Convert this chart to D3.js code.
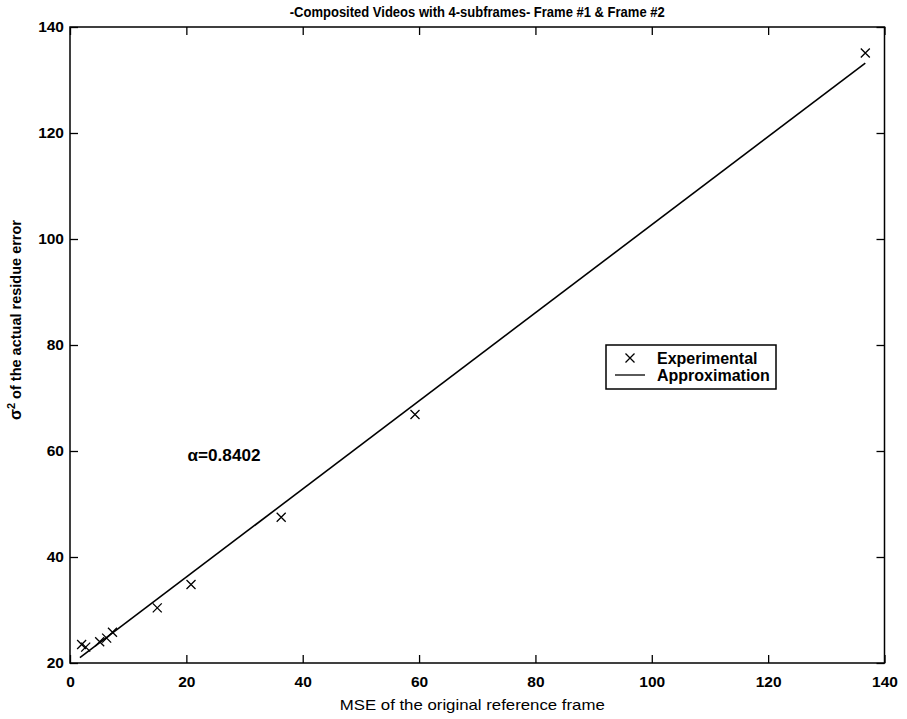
<!DOCTYPE html>
<html>
<head>
<meta charset="utf-8">
<script src="https://cdn.jsdelivr.net/npm/d3@7"></script>
<style>
  html, body { margin: 0; padding: 0; background: #fff; }
  svg { display: block; }
  text { font-family: "Liberation Sans", Arial, sans-serif; fill: #000; }
</style>
</head>
<body>
<svg id="chart" width="907" height="719"></svg>
<script>
// ---- data ----
const titleText = "-Composited Videos with 4-subframes- Frame #1 & Frame #2";
const xLabel = "MSE of the original reference frame";
const yLabelRest = " of the actual residue error";
const xTicks = [0, 20, 40, 60, 80, 100, 120, 140];
const yTicks = [20, 40, 60, 80, 100, 120, 140];
// experimental points
const expMSE   = [2.0, 2.7, 5.1, 6.3, 7.3, 15.0, 20.8, 36.3, 59.3, 136.7];
const expSigma = [23.5, 23.0, 24.0, 24.7, 25.8, 30.4, 34.8, 47.5, 66.9, 135.1];
// approximation line
const approxMSE   = [1.7, 136.7];
const approxSigma = [21.0, 133.2];
const alphaText = "\u03b1=0.8402";
const legendLabels = ["Experimental", "Approximation"];

// ---- layout ----
const svg = d3.select("#chart");
const L = 70, R = 884.5, T = 27, B = 663;
const x = d3.scaleLinear().domain([0, 140]).range([L, R]);
const y = d3.scaleLinear().domain([20, 140]).range([B, T]);
const tick = 8;

// axes
const gB = svg.append("g").attr("transform", `translate(0,${B})`)
  .call(d3.axisBottom(x).tickValues(xTicks).tickSizeInner(-tick).tickSizeOuter(0).tickPadding(12));
const gT = svg.append("g").attr("transform", `translate(0,${T})`)
  .call(d3.axisTop(x).tickValues(xTicks).tickSizeInner(-tick).tickSizeOuter(0).tickFormat(""));
const gL = svg.append("g").attr("transform", `translate(${L},0)`)
  .call(d3.axisLeft(y).tickValues(yTicks).tickSizeInner(-tick).tickSizeOuter(0).tickPadding(6));
const gR = svg.append("g").attr("transform", `translate(${R},0)`)
  .call(d3.axisRight(y).tickValues(yTicks).tickSizeInner(-tick).tickSizeOuter(0).tickFormat(""));
[gB, gT, gL, gR].forEach(g => {
  g.select(".domain").remove();
  g.selectAll(".tick line").attr("stroke", "#000").attr("stroke-width", 1.3);
  g.selectAll(".tick text").attr("font-size", 15.5).attr("font-weight", "bold")
    .attr("font-family", "'Liberation Sans', Arial, sans-serif").attr("fill", "#000");
});
gB.selectAll(".tick text").attr("dy", "0.71em").attr("y", 13);

svg.append("rect").attr("x", L).attr("y", T).attr("width", R - L).attr("height", B - T)
  .attr("fill", "none").attr("stroke", "#000").attr("stroke-width", 1.5);

// title
svg.append("text").attr("x", (L + R) / 2).attr("y", 17).attr("text-anchor", "middle")
  .attr("font-size", 15).attr("font-weight", "bold")
  .attr("textLength", 375).attr("lengthAdjust", "spacingAndGlyphs")
  .text(titleText);

// x label
svg.append("text").attr("x", (L + R) / 2 - 5).attr("y", 710).attr("text-anchor", "middle")
  .attr("font-size", 15).attr("textLength", 265).attr("lengthAdjust", "spacingAndGlyphs")
  .text(xLabel);

// y label
const yl = svg.append("text").attr("transform", `translate(21,${(T + B) / 2 - 25}) rotate(-90)`)
  .attr("text-anchor", "middle").attr("font-size", 14.5).attr("font-weight", "bold");
yl.append("tspan").attr("font-size", 16).text("\u03c3");
yl.append("tspan").attr("font-size", 11).attr("dy", -6).text("2");
yl.append("tspan").attr("dy", 6).text(yLabelRest);

// approximation line
const pts = approxMSE.map((v, i) => [v, approxSigma[i]]);
svg.append("path").datum(pts)
  .attr("d", d3.line().x(d => x(d[0])).y(d => y(d[1])))
  .attr("fill", "none").attr("stroke", "#000").attr("stroke-width", 1.6);

// experimental markers
const ms = 4.5;
const cross = (cx, cy) => `M${cx - ms},${cy - ms}L${cx + ms},${cy + ms}M${cx - ms},${cy + ms}L${cx + ms},${cy - ms}`;
svg.append("g").selectAll("path").data(expMSE.map((v, i) => [v, expSigma[i]])).join("path")
  .attr("d", d => cross(x(d[0]), y(d[1])))
  .attr("stroke", "#000").attr("stroke-width", 1.3).attr("fill", "none");

// alpha annotation
svg.append("text").attr("x", x(20.2)).attr("y", y(59.2)).attr("dy", "0.35em")
  .attr("font-size", 16).attr("font-weight", "bold")
  .attr("textLength", 73).attr("lengthAdjust", "spacingAndGlyphs").text(alphaText);

// legend
const lg = svg.append("g");
const lx = 606, ly = 345, lw = 170, lh = 44;
lg.append("rect").attr("x", lx).attr("y", ly).attr("width", lw).attr("height", lh)
  .attr("fill", "#fff").attr("stroke", "#000").attr("stroke-width", 1.5);
const r1 = 358, r2 = 375;
lg.append("path").attr("d", cross(630, r1)).attr("stroke", "#000").attr("stroke-width", 1.3);
lg.append("line").attr("x1", 615).attr("x2", 645).attr("y1", r2).attr("y2", r2)
  .attr("stroke", "#000").attr("stroke-width", 1.3);
lg.selectAll("text.lt").data(legendLabels).join("text").attr("class", "lt")
  .attr("x", 657).attr("y", (d, i) => i === 0 ? r1 : r2).attr("dy", "0.35em")
  .attr("font-size", 16).attr("font-weight", "bold").text(d => d);
</script>
</body>
</html>
